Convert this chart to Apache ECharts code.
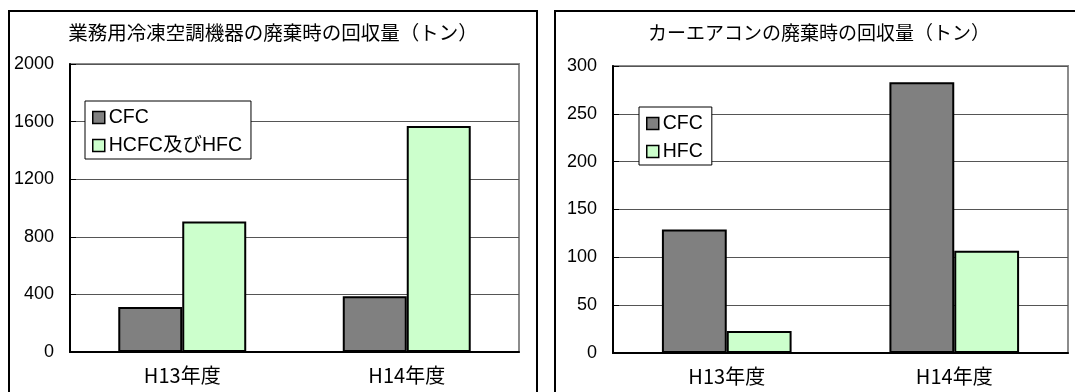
<!DOCTYPE html>
<html>
<head>
<meta charset="utf-8">
<script src="https://cdn.jsdelivr.net/npm/echarts@6/dist/echarts.min.js"></script>
<style>
  html, body { margin: 0; padding: 0; background: #fff; }
  #chart { width: 1075px; height: 392px; }
</style>
</head>
<body>
<div id="chart"></div>
<script>
// Fiscal years on the category axis
const categories = ['H13年度', 'H14年度'];

// Commercial refrigeration / air-conditioning equipment, recovered at disposal (t)
const commercialCFC = [313, 387];
const commercialHCFCandHFC = [906, 1569];

// Car air conditioners, recovered at disposal (t)
const carCFC = [129, 283];
const carHFC = [23, 107];

// Titles and legend names
const titleCommercial = '業務用冷凍空調機器の廃棄時の回収量（トン）';
const titleCar = 'カーエアコンの廃棄時の回収量（トン）';
const namesCommercial = ['CFC', 'HCFC及びHFC'];
const namesCar = ['CFC', 'HFC'];

const FONT = "'Liberation Sans', 'Noto Sans CJK JP', sans-serif";
const CJK = "'Noto Sans CJK JP', sans-serif";
const GRAY = '#808080';
const GREEN = '#ccffcc';

function xAxis(gridIndex) {
  return {
    type: 'category',
    gridIndex: gridIndex,
    data: categories,
    axisLine: { lineStyle: { color: '#000', width: 2 } },
    axisTick: { inside: true, length: 5, lineStyle: { color: '#000', width: 1 } },
    axisLabel: { color: '#000', fontSize: 20, fontFamily: CJK, margin: 13 },
    splitLine: { show: false }
  };
}

function yAxis(gridIndex, max, interval) {
  return {
    type: 'value',
    gridIndex: gridIndex,
    min: 0,
    max: max,
    interval: interval,
    axisLine: { show: true, lineStyle: { color: '#000', width: 2 } },
    axisTick: { show: true, inside: true, length: 6, lineStyle: { color: '#000', width: 1 } },
    axisLabel: { color: '#000', fontSize: 18, fontFamily: FONT, margin: 16,
                 formatter: function (v) { return String(v); } },
    splitLine: { show: true, lineStyle: { color: '#555', width: 1 } }
  };
}

function bar(name, data, color, idx) {
  return {
    type: 'bar',
    name: name,
    xAxisIndex: idx,
    yAxisIndex: idx,
    data: data,
    barGap: '0%',
    barCategoryGap: '43%',
    itemStyle: { color: color, borderColor: '#000', borderWidth: 2 },
    emphasis: { disabled: true },
    animation: false
  };
}

function legend(names, left, top) {
  return {
    data: names,
    orient: 'vertical',
    left: left,
    top: top,
    icon: 'rect',
    itemWidth: 12,
    itemHeight: 12,
    itemGap: 7,
    backgroundColor: '#fff',
    borderColor: '#000',
    borderWidth: 1,
    borderRadius: 0,
    padding: [6, 9, 3, 7],
    selectedMode: false,
    itemStyle: { borderColor: '#000', borderWidth: 1.5 },
    textStyle: { color: '#000', fontSize: 19.5, fontFamily: FONT, lineHeight: 21, padding: [0, 0, 0, -1] }
  };
}

const chart = echarts.init(document.getElementById('chart'), null, { renderer: 'canvas' });

chart.setOption({
  backgroundColor: '#fff',
  animation: false,
  graphic: [
    { type: 'rect', shape: { x: 9, y: 11, width: 528, height: 420 },
      style: { fill: null, stroke: '#000', lineWidth: 2 }, silent: true },
    { type: 'rect', shape: { x: 555, y: 11, width: 528, height: 420 },
      style: { fill: null, stroke: '#000', lineWidth: 2 }, silent: true },
    { type: 'text', x: 273, y: 33,
      style: { text: titleCommercial, fill: '#000', font: "19.5px " + CJK,
               textAlign: 'center', textVerticalAlign: 'middle' } },
    { type: 'text', x: 819, y: 33,
      style: { text: titleCar, fill: '#000', font: "19px " + CJK,
               textAlign: 'center', textVerticalAlign: 'middle' } }
  ],
  grid: [
    { left: 70, top: 64, width: 449, height: 288, show: true,
      borderColor: '#8c8c8c', borderWidth: 2, backgroundColor: '#fff' },
    { left: 613, top: 66, width: 455, height: 287, show: true,
      borderColor: '#8c8c8c', borderWidth: 2, backgroundColor: '#fff' }
  ],
  xAxis: [xAxis(0), xAxis(1)],
  yAxis: [yAxis(0, 2000, 400), yAxis(1, 300, 50)],
  legend: [legend(namesCommercial, 85, 101), legend(namesCar, 639, 107)],
  series: [
    bar(namesCommercial[0], commercialCFC, GRAY, 0),
    bar(namesCommercial[1], commercialHCFCandHFC, GREEN, 0),
    bar(namesCar[0], carCFC, GRAY, 1),
    bar(namesCar[1], carHFC, GREEN, 1)
  ]
});
</script>
</body>
</html>
